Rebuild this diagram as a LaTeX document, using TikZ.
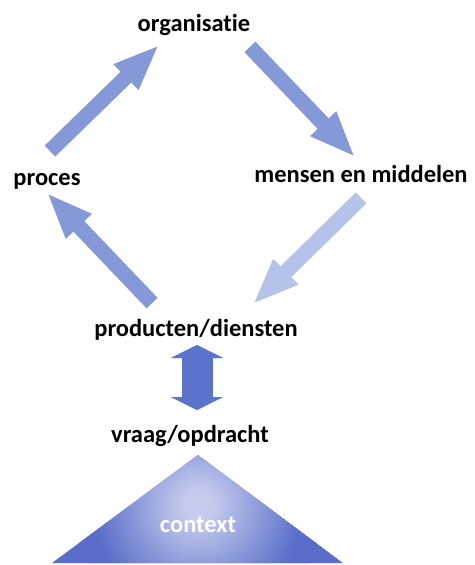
\documentclass[tikz,border=0pt]{standalone}
\usepackage{fontspec}
\setmainfont{Carlito}[RawFeature={-liga;-clig;-dlig;-calt}]
\usetikzlibrary{arrows.meta}

\definecolor{arrowblue}{HTML}{8599D8}
\definecolor{paleblue}{HTML}{B5C3EA}
\definecolor{deepblue}{HTML}{5A74CC}
\definecolor{shadowgray}{HTML}{BEBEBE}
\definecolor{ctxlight}{HTML}{C4CBED}
\definecolor{ctxdark}{HTML}{5A6EC9}

\pgfdeclareradialshading{ctxglow}{\pgfpointorigin}{%
  color(0bp)=(ctxlight); color(3bp)=(ctxlight); color(21bp)=(ctxdark); color(50bp)=(ctxdark)}

\tikzset{
  term/.style={font=\fontsize{24.5}{28}\selectfont\bfseries, anchor=base, inner sep=0pt},
  fatarrow/.style={line width=15pt, -{Triangle[length=46pt,width=32pt]}},
  updown/.style={line width=31pt,
    {Triangle[length=13pt,width=52pt]}-{Triangle[length=13pt,width=52pt]}},
  dropshadow/.style={shadowgray, xshift=2.5pt, yshift=-2.5pt},
}

% a flat arrow with a soft grey shadow below-right
\newcommand\flowarrow[4][fatarrow]{%
  \draw[#1, dropshadow] (#3) -- (#4);
  \draw[#1, #2] (#3) -- (#4);}

\begin{document}
\begin{tikzpicture}[x=1pt, y=-1pt]
  \useasboundingbox (0,0) rectangle (474,565);

  % labels
  \node[term] (org)  at (194,31)  {organisatie};
  \node[term] (proc) at (47,185)  {proces};
  \node[term] (mens) at (361,182) {mensen en middelen};
  \node[term] (prod) at (196,336) {producten/diensten};
  \node[term] (vraag) at (190,442) {vraag/opdracht};

  % arrow ends around the cycle
  \coordinate (procOut) at (50,151);
  \coordinate (orgIn)   at (159,45);
  \coordinate (orgOut)  at (250,47);
  \coordinate (mensIn)  at (355,157);
  \coordinate (mensOut) at (361,198);
  \coordinate (prodIn)  at (253,304);
  \coordinate (prodOut) at (152,303);
  \coordinate (procIn)  at (47,193);
  \coordinate (prodEnd) at (197,345);
  \coordinate (vraagEnd) at (197,410);

  \flowarrow{arrowblue}{procOut}{orgIn}
  \flowarrow{arrowblue}{orgOut}{mensIn}
  \flowarrow{paleblue}{mensOut}{prodIn}
  \flowarrow{arrowblue}{prodOut}{procIn}
  \flowarrow[updown]{deepblue}{prodEnd}{vraagEnd}

  % context triangle with a light centre
  \coordinate (apex) at (198,455);
  \coordinate (baseL) at (52,563);
  \coordinate (baseR) at (343,563);
  \begin{scope}
    \clip (apex) -- (baseR) -- (baseL) -- cycle;
    \fill[ctxdark] (apex) -- (baseR) -- (baseL) -- cycle;
    \shade[shading=ctxglow] (198,505) circle (124);
  \end{scope}
  \node[term, text=white] (ctx) at (198,532) {context};
\end{tikzpicture}
\end{document}
